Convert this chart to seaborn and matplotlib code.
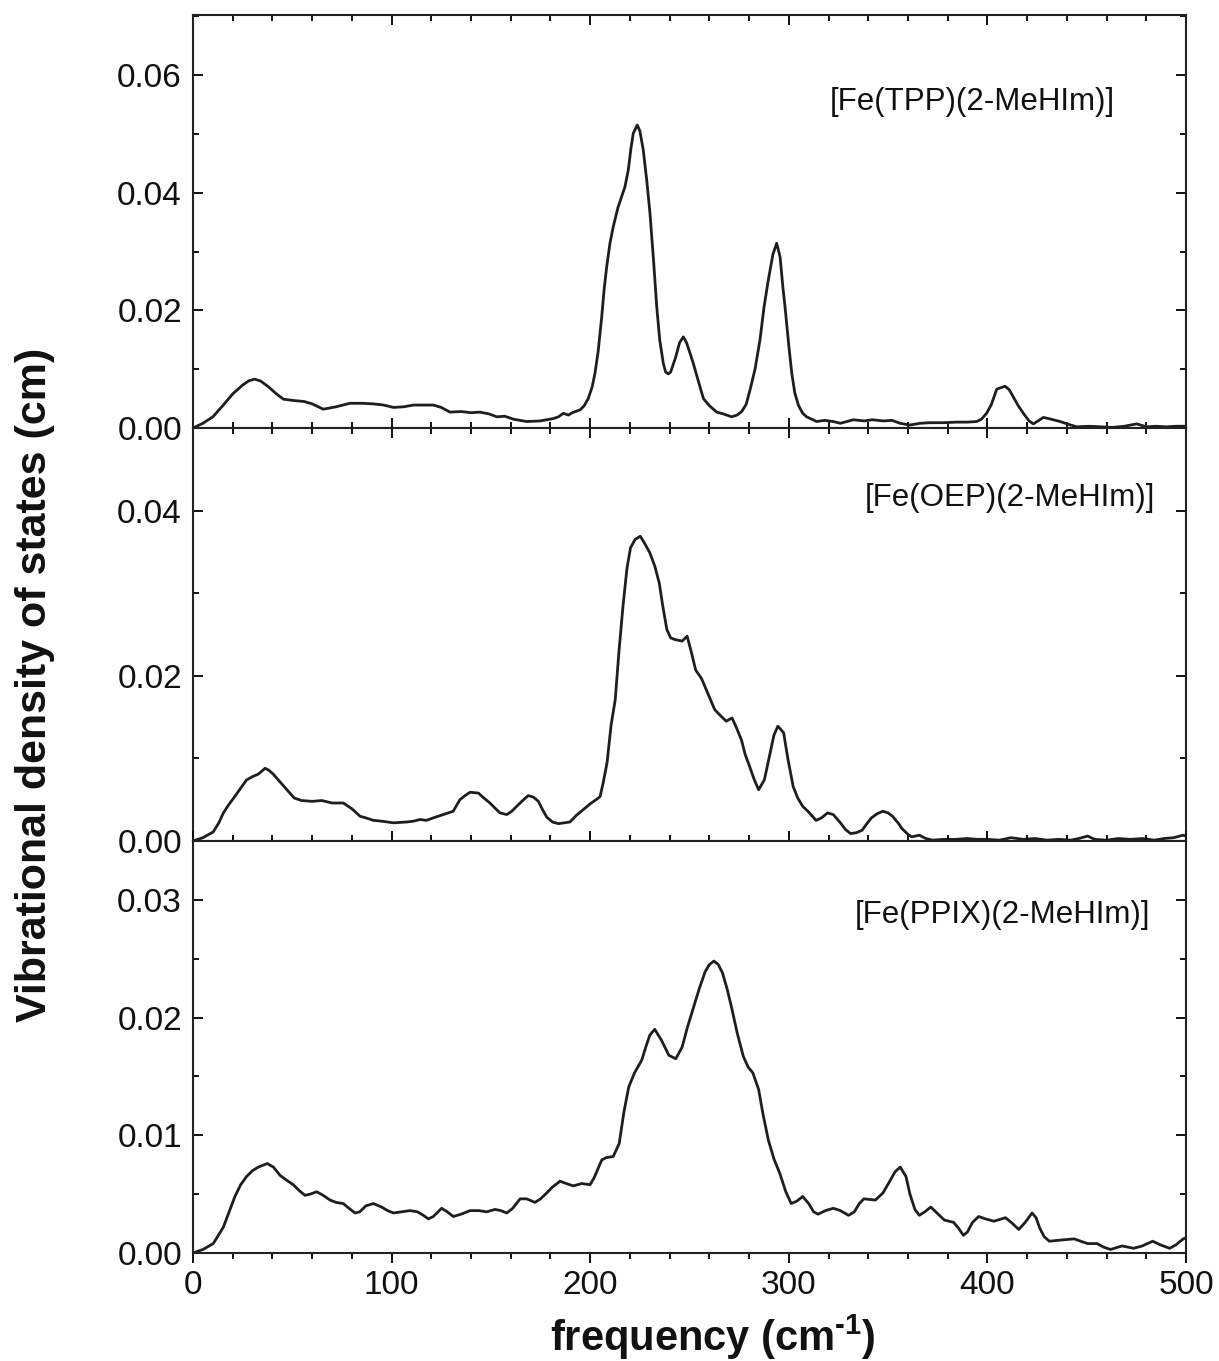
import numpy as np
import pandas as pd
import matplotlib
matplotlib.use("Agg")
import matplotlib.pyplot as plt
from matplotlib.ticker import MultipleLocator, FormatStrFormatter
import seaborn as sns

# ---- [Fe(TPP)(2-MeHIm)] ----
tpp_freq = [0, 5, 10, 15, 20, 25, 28, 31, 34, 38, 42, 45.5, 50, 56, 60, 65.6, 72, 79, 85, 90.8,
            96, 101, 106, 111, 116, 121, 125, 129.4, 135, 140, 144.5, 149, 153, 157, 161.3, 168,
            174.7, 181.4, 184, 186.5, 189, 191, 195, 197, 199, 201, 202.4, 204, 205.8, 207, 208.3,
            210, 211.6, 214, 217.5, 219.2, 220.5, 221.7, 223.7, 225, 226.7, 228.5, 230.1, 232,
            233.5, 235, 236.8, 238, 239.3, 240.5, 243, 245, 246.9, 248.5, 250, 251.9, 254, 257,
            260, 263.7, 267, 271.2, 274, 276.3, 278.5, 280.5, 283, 285.5, 287.5, 289.7, 292,
            293.9, 295.6, 297, 298.1, 300, 301.5, 303, 304.8, 307, 309, 314, 318, 322.4, 326,
            332.5, 338, 342, 347.6, 352, 356, 361, 366, 371, 378, 384.5, 390, 394.6, 397, 399.6,
            402, 404.7, 408.9, 411, 413, 415.5, 418.1, 421, 423.1, 425.5, 428.2, 432, 436.6, 441,
            445, 451, 456.7, 463, 469, 475.2, 480, 485, 490, 495, 500]
tpp_vdos = [0, 0.0008, 0.0019, 0.0038, 0.0058, 0.0073, 0.0080, 0.0083, 0.0080, 0.0070, 0.0058,
            0.0049, 0.0047, 0.0045, 0.0041, 0.0032, 0.0036, 0.0042, 0.0042, 0.0041, 0.0039, 0.0035,
            0.0036, 0.0039, 0.0039, 0.0039, 0.0035, 0.0027, 0.0028, 0.0026, 0.0027, 0.0024, 0.0019,
            0.0020, 0.0015, 0.0011, 0.0012, 0.0016, 0.0019, 0.0025, 0.0022, 0.0026, 0.0031, 0.0038,
            0.0050, 0.0070, 0.0093, 0.0130, 0.0189, 0.0235, 0.0274, 0.0315, 0.0342, 0.0375, 0.0410,
            0.0439, 0.0475, 0.0501, 0.0515, 0.0505, 0.0473, 0.0420, 0.0365, 0.0280, 0.0206, 0.0150,
            0.0110, 0.0095, 0.0092, 0.0095, 0.0120, 0.0145, 0.0155, 0.0145, 0.0130, 0.0110, 0.0085,
            0.0050, 0.0038, 0.0027, 0.0024, 0.0019, 0.0022, 0.0028, 0.0040, 0.0065, 0.0100, 0.0150,
            0.0205, 0.0252, 0.0295, 0.0314, 0.0291, 0.0240, 0.0206, 0.0140, 0.0093, 0.0060, 0.0039,
            0.0025, 0.0019, 0.0011, 0.0013, 0.0011, 0.0008, 0.0014, 0.0012, 0.0014, 0.0012, 0.0013,
            0.0008, 0.0005, 0.0008, 0.0009, 0.0009, 0.0010, 0.0010, 0.0011, 0.0015, 0.0025, 0.0040,
            0.0066, 0.0071, 0.0065, 0.0053, 0.0038, 0.0025, 0.0012, 0.0007, 0.0012, 0.0018, 0.0015,
            0.0011, 0.0006, 0.0002, 0.0003, 0.0002, 0.0001, 0.0003, 0.0007, 0.0002, 0.0003, 0.0002,
            0.0003, 0.0003]

# ---- [Fe(OEP)(2-MeHIm)] ----
oep_freq = [0, 5, 10.2, 13, 15.3, 18, 21.1, 24, 27, 30, 32.9, 36.3, 38, 40.4, 44, 48.8, 51, 54.7,
            60, 64.8, 70, 75.7, 80, 84.1, 87, 90.8, 95, 100.9, 107.6, 111, 114.3, 117.6, 121, 126,
            131, 134.4, 137, 139.5, 143.7, 146, 149.5, 152, 154.6, 158, 160.5, 163, 166, 168.8,
            171.5, 173.9, 176, 178.1, 181, 184, 189.8, 193, 196.5, 200, 204.1, 205, 206.5, 208.5,
            210.5, 212.6, 214.5, 216.5, 218.5, 220.3, 222.6, 225.2, 227.5, 230, 232.5, 234.8,
            236.5, 238.6, 240.5, 242.5, 246.3, 248.8, 251, 253.1, 256, 259, 262.7, 265.5, 268.5,
            271.4, 273.5, 276.2, 278, 280, 282.5, 284.8, 287.7, 290, 292.5, 294.5, 297.4, 299.5,
            302.2, 304.5, 307, 310, 313.7, 316.5, 319.5, 322.4, 326, 328.5, 331.1, 334, 336.9,
            339, 341.6, 344.5, 347.4, 350, 352.2, 355, 357, 360, 361.9, 365.7, 369, 372.4, 378,
            384, 389.7, 395, 400, 406, 411.9, 418, 424, 430, 436, 442, 446, 450.5, 454, 460, 466,
            472, 478, 484, 489, 493.8, 498.5, 500]
oep_vdos = [0, 0.0004, 0.0011, 0.0022, 0.0034, 0.0044, 0.0054, 0.0064, 0.0074, 0.0078, 0.0081,
            0.0088, 0.0086, 0.0081, 0.0071, 0.0058, 0.0052, 0.0049, 0.0048, 0.0049, 0.0046, 0.0046,
            0.0039, 0.0030, 0.0028, 0.0025, 0.0024, 0.0022, 0.0023, 0.0024, 0.0026, 0.0025, 0.0028,
            0.0032, 0.0036, 0.0050, 0.0055, 0.0059, 0.0058, 0.0053, 0.0046, 0.0040, 0.0034, 0.0032,
            0.0036, 0.0042, 0.0049, 0.0055, 0.0053, 0.0048, 0.0038, 0.0029, 0.0023, 0.0021, 0.0023,
            0.0031, 0.0038, 0.0045, 0.0052, 0.0054, 0.0070, 0.0095, 0.0140, 0.0171, 0.0230, 0.0284,
            0.0330, 0.0355, 0.0365, 0.0369, 0.0360, 0.0349, 0.0333, 0.0312, 0.0285, 0.0256, 0.0246,
            0.0244, 0.0242, 0.0248, 0.0228, 0.0207, 0.0197, 0.0180, 0.0159, 0.0152, 0.0145, 0.0149,
            0.0138, 0.0122, 0.0105, 0.0092, 0.0075, 0.0062, 0.0074, 0.0100, 0.0128, 0.0139, 0.0131,
            0.0100, 0.0066, 0.0052, 0.0042, 0.0035, 0.0025, 0.0028, 0.0034, 0.0032, 0.0022, 0.0014,
            0.0009, 0.0010, 0.0013, 0.0020, 0.0028, 0.0033, 0.0036, 0.0034, 0.0030, 0.0022, 0.0015,
            0.0008, 0.0005, 0.0007, 0.0003, 0.0001, 0.0002, 0.0002, 0.0003, 0.0002, 0.0002, 0.0001,
            0.0004, 0.0002, 0.0003, 0.0001, 0.0002, 0.0001, 0.0003, 0.0006, 0.0002, 0.0001, 0.0003,
            0.0002, 0.0003, 0.0001, 0.0003, 0.0004, 0.0007, 0.0006]

# ---- [Fe(PPIX)(2-MeHIm)] ----
ppix_freq = [0, 5, 10.2, 15.3, 18, 21.1, 24, 27, 30, 32.9, 37.4, 40.5, 43.8, 47, 50.5, 53.5, 56.4,
             59, 62.3, 65.5, 69, 72, 75.7, 78.5, 81.6, 84, 87, 90.8, 95, 98, 100.9, 105, 109.3, 113,
             116, 118.5, 121, 125.2, 128, 131.1, 135, 139.5, 144, 147.9, 152.1, 155, 158, 161,
             164.7, 168, 172.2, 175, 178.1, 181, 184.8, 188, 191.5, 195.7, 199.9, 202, 205.8, 208,
             211.6, 214.6, 217, 219.4, 222.3, 226, 228, 230, 232.5, 235.8, 239.6, 243.1, 246.3,
             249, 252.1, 255, 257.9, 260, 262.3, 264.5, 266.6, 269, 271.4, 274, 277.1, 279.5,
             281.9, 284.8, 287, 289.7, 292.5, 295.4, 298.5, 301.2, 304, 307, 310, 312.5, 314.7,
             318.5, 322.4, 326, 330.1, 333, 335.5, 337.8, 343.6, 347.4, 350.5, 353.5, 356.1, 359,
             361, 363.5, 365.7, 368.5, 371.5, 374, 378.3, 383, 385.5, 387.9, 390, 392.5, 395.6,
             399, 403.3, 409.1, 412, 415.8, 419, 422.5, 424.5, 426.4, 428.5, 431.2, 437, 443.7,
             447, 450.5, 455.2, 458.5, 462, 467.8, 473.6, 478, 483.2, 487, 491.8, 495, 498.6, 500]
ppix_vdos = [0, 0.0003, 0.0008, 0.0022, 0.0034, 0.0048, 0.0058, 0.0065, 0.0070, 0.0073, 0.0076,
             0.0073, 0.0066, 0.0062, 0.0058, 0.0053, 0.0049, 0.0050, 0.0052, 0.0049, 0.0045, 0.0043,
             0.0042, 0.0038, 0.0034, 0.0035, 0.0040, 0.0042, 0.0039, 0.0036, 0.0034, 0.0035, 0.0036,
             0.0035, 0.0032, 0.0029, 0.0031, 0.0038, 0.0035, 0.0031, 0.0033, 0.0036, 0.0036, 0.0035,
             0.0037, 0.0036, 0.0034, 0.0038, 0.0046, 0.0046, 0.0043, 0.0046, 0.0051, 0.0056, 0.0061,
             0.0059, 0.0057, 0.0059, 0.0058, 0.0064, 0.0079, 0.0081, 0.0082, 0.0093, 0.0120, 0.0141,
             0.0153, 0.0164, 0.0175, 0.0185, 0.0190, 0.0181, 0.0168, 0.0165, 0.0175, 0.0192, 0.0209,
             0.0225, 0.0239, 0.0245, 0.0248, 0.0245, 0.0238, 0.0224, 0.0207, 0.0187, 0.0167, 0.0158,
             0.0153, 0.0139, 0.0118, 0.0096, 0.0080, 0.0068, 0.0052, 0.0042, 0.0044, 0.0048, 0.0042,
             0.0035, 0.0033, 0.0036, 0.0038, 0.0036, 0.0032, 0.0035, 0.0042, 0.0046, 0.0045, 0.0051,
             0.0060, 0.0069, 0.0073, 0.0065, 0.0050, 0.0037, 0.0032, 0.0035, 0.0039, 0.0035, 0.0028,
             0.0026, 0.0021, 0.0015, 0.0018, 0.0026, 0.0031, 0.0029, 0.0027, 0.0030, 0.0026, 0.0020,
             0.0026, 0.0034, 0.0030, 0.0021, 0.0014, 0.0010, 0.0011, 0.0012, 0.0010, 0.0008, 0.0008,
             0.0005, 0.0003, 0.0006, 0.0004, 0.0006, 0.0010, 0.0007, 0.0004, 0.0007, 0.0012, 0.0013]

sample_labels = ["[Fe(TPP)(2-MeHIm)]", "[Fe(OEP)(2-MeHIm)]", "[Fe(PPIX)(2-MeHIm)]"]
y_tops = [0.0702, 0.0500, 0.0350]
y_major = [0.02, 0.02, 0.01]
y_minor = [0.01, 0.01, 0.005]
x_major_ticks = [0, 100, 200, 300, 400, 500]

sns.set_style("ticks")
plt.rcParams["font.family"] = ["Liberation Sans", "DejaVu Sans"]
plt.rcParams["axes.linewidth"] = 1.5
plt.rcParams["mathtext.fontset"] = "custom"
plt.rcParams["mathtext.rm"] = "Liberation Sans:bold"
plt.rcParams["mathtext.bf"] = "Liberation Sans:bold"
plt.rcParams["mathtext.default"] = "rm"

W, H = 1219, 1361
fig = plt.figure(figsize=(W / 100, H / 100), dpi=100)

left, right = 193 / W, 1186 / W
edges_px = [15, 428, 841, 1253]
series = [(tpp_freq, tpp_vdos), (oep_freq, oep_vdos), (ppix_freq, ppix_vdos)]
label_pos = [(1115, 102), (1155, 498), (1150, 915)]

for i, (fx, fy) in enumerate(series):
    top_px, bot_px = edges_px[i], edges_px[i + 1]
    ax = fig.add_axes([left, 1 - bot_px / H, right - left, (bot_px - top_px) / H])
    df = pd.DataFrame({"freq": fx, "vdos": fy})
    sns.lineplot(data=df, x="freq", y="vdos", ax=ax, color="#1e1e1e", linewidth=2.0,
                 sort=False, estimator=None)
    ax.set_xlim(0, 500)
    ax.set_ylim(0, y_tops[i])
    ax.set_xlabel("")
    ax.set_ylabel("")
    ax.xaxis.set_major_locator(MultipleLocator(100))
    ax.xaxis.set_minor_locator(MultipleLocator(20))
    ax.yaxis.set_major_locator(MultipleLocator(y_major[i]))
    ax.yaxis.set_minor_locator(MultipleLocator(y_minor[i]))
    ax.yaxis.set_major_formatter(FormatStrFormatter("%.2f"))
    ax.tick_params(axis="both", which="both", top=True, right=True, width=1.4,
                   labelsize=24, colors="#111111")
    ax.tick_params(axis="both", which="major", length=7)
    ax.tick_params(axis="both", which="minor", length=4)
    ax.tick_params(axis="y", which="both", direction="in", pad=8)
    ax.tick_params(axis="x", which="both", direction="in")
    ax.tick_params(axis="x", which="both", bottom=True)
    if i < 2:
        ax.tick_params(axis="x", labelbottom=False)
    else:
        ax.set_xticks(x_major_ticks)
        ax.tick_params(axis="x", which="both", direction="out", pad=5)
        ax.tick_params(axis="x", which="both", top=True)
    for s in ax.spines.values():
        s.set_color("#222222")
    lx, ly = label_pos[i]
    fig.text(lx / W, 1 - ly / H, sample_labels[i], ha="right", va="center",
             fontsize=22.5, color="#111111")

fig.text(35 / W, 1 - 685 / H, "Vibrational density of states (cm)", rotation=90,
         ha="center", va="center", fontsize=31, fontweight="bold", color="#111111")
fig.text(713 / W, 1 - 1337 / H, r"frequency (cm$^{\text{-1}}$)", ha="center", va="center",
         fontsize=30, fontweight="bold", color="#111111")

fig.savefig("out.png", dpi=100, facecolor="white")
